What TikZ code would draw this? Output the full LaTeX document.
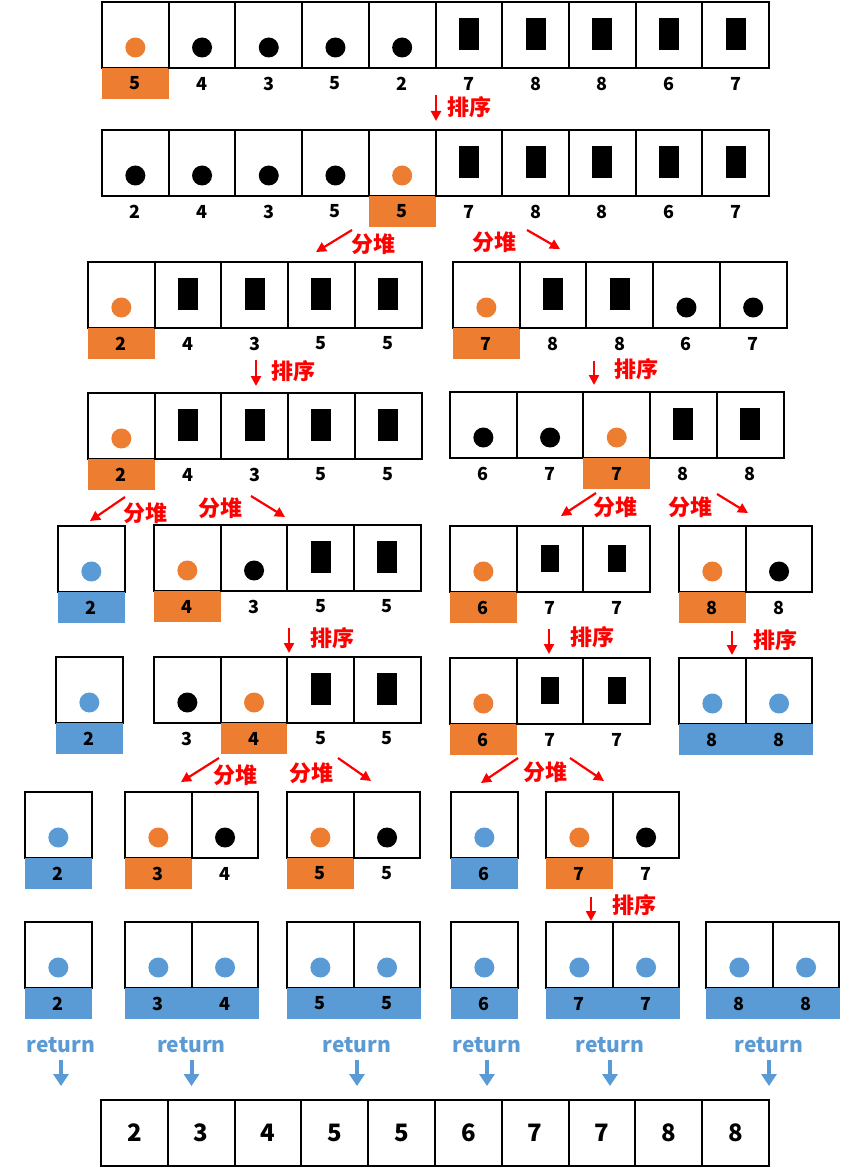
\documentclass[tikz,border=0pt]{standalone}
\usepackage{fontspec}
\setmainfont{Noto Sans CJK SC}
\usepackage{tikz}
\usetikzlibrary{arrows,arrows.meta,positioning}
\definecolor{qsorange}{RGB}{237,125,49}
\definecolor{qsblue}{RGB}{91,155,213}
\definecolor{qsred}{RGB}{255,0,0}
\newcommand{\digitfont}{\bfseries\fontsize{18}{18}\selectfont}
\newcommand{\bigdigit}{\bfseries\fontsize{24}{24}\selectfont}
\tikzstyle{cell}=[draw, line width=2pt, minimum width=66.7pt, minimum height=66pt, inner sep=0pt, outer sep=0pt]
\tikzstyle{pdot}=[circle, fill=qsorange, minimum size=20pt, inner sep=0pt, yshift=-45.5pt]
\tikzstyle{bdot}=[circle, fill=black, minimum size=20pt, inner sep=0pt, yshift=-45.5pt]
\tikzstyle{ddot}=[circle, fill=qsblue, minimum size=20pt, inner sep=0pt, yshift=-45.5pt]
\tikzstyle{bar}=[rectangle, fill=black, minimum width=20pt, minimum height=32pt, inner sep=0pt, yshift=-32pt]
\tikzstyle{sbar}=[rectangle, fill=black, minimum width=18pt, minimum height=27pt, inner sep=0pt, yshift=-32.5pt]
\tikzstyle{plain}=[font=\digitfont, inner sep=0pt, yshift=-15.5pt]
\tikzstyle{ptag}=[plain, fill=qsorange, minimum width=66.7pt, minimum height=31pt]
\tikzstyle{dtag}=[plain, fill=qsblue, minimum width=67.3pt, minimum height=31pt]
\tikzstyle{redtext}=[text=qsred, font=\bfseries\fontsize{22}{22}\selectfont, inner sep=0pt]
\tikzstyle{redarrow}=[-{Triangle[length=10pt,width=10pt]}, draw=qsred, fill=qsred, line width=2.2pt]
\tikzstyle{rettext}=[text=qsblue, font=\bfseries\fontsize{21}{21}\selectfont, inner sep=1pt]
\tikzstyle{retarrow}=[-{Triangle[length=12pt,width=15pt]}, draw=qsblue, fill=qsblue, line width=4pt]
% one row of cells: name, left x, top y, kind/value/tag
\newcommand{\qsrow}[4]{%
  \foreach \kind/\val/\tg [count=\i] in {#4}{%
    \node[cell] (#1-\i) at ({#2+(\i-0.5)*66.7},{#3+33}) {};
    \node[\kind] at (#1-\i.north) {};
    \node[\tg] (#1-\i-t) at (#1-\i.south) {\val};
  }}

\begin{document}
\begin{tikzpicture}[x=1pt, y=-1pt]
\useasboundingbox (0,0) rectangle (858,1169);
\fill[white] (0,0) rectangle (858,1169);
%
\qsrow{r1}{102}{2}{pdot/5/ptag, bdot/4/plain, bdot/3/plain, bdot/5/plain, bdot/2/plain, bar/7/plain, bar/8/plain, bar/8/plain, bar/6/plain, bar/7/plain}
\qsrow{r2}{102}{130}{bdot/2/plain, bdot/4/plain, bdot/3/plain, bdot/5/plain, pdot/5/ptag, bar/7/plain, bar/8/plain, bar/8/plain, bar/6/plain, bar/7/plain}
%
\qsrow{r3a}{88}{262}{pdot/2/ptag, bar/4/plain, bar/3/plain, bar/5/plain, bar/5/plain}
\qsrow{r3b}{453}{262}{pdot/7/ptag, bar/8/plain, bar/8/plain, bdot/6/plain, bdot/7/plain}
\qsrow{r4a}{88}{393}{pdot/2/ptag, bar/4/plain, bar/3/plain, bar/5/plain, bar/5/plain}
\qsrow{r4b}{450}{392}{bdot/6/plain, bdot/7/plain, pdot/7/ptag, bar/8/plain, bar/8/plain}
%
\qsrow{r5a}{58}{526}{ddot/2/dtag}
\qsrow{r5b}{154}{525}{pdot/4/ptag, bdot/3/plain, bar/5/plain, bar/5/plain}
\qsrow{r5c}{450}{526}{pdot/6/ptag, sbar/7/plain, sbar/7/plain}
\qsrow{r5d}{679}{526}{pdot/8/ptag, bdot/8/plain}
\qsrow{r6a}{56}{657}{ddot/2/dtag}
\qsrow{r6b}{154}{657}{bdot/3/plain, pdot/4/ptag, bar/5/plain, bar/5/plain}
\qsrow{r6c}{450}{658}{pdot/6/ptag, sbar/7/plain, sbar/7/plain}
\qsrow{r6d}{679}{658}{ddot/8/dtag, ddot/8/dtag}
%
\qsrow{r7a}{25}{792}{ddot/2/dtag}
\qsrow{r7b}{125}{792}{pdot/3/ptag, bdot/4/plain}
\qsrow{r7c}{287}{792}{pdot/5/ptag, bdot/5/plain}
\qsrow{r7d}{451}{792}{ddot/6/dtag}
\qsrow{r7e}{546}{792}{pdot/7/ptag, bdot/7/plain}
\qsrow{r8a}{25}{922}{ddot/2/dtag}
\qsrow{r8b}{125}{922}{ddot/3/dtag, ddot/4/dtag}
\qsrow{r8c}{287}{922}{ddot/5/dtag, ddot/5/dtag}
\qsrow{r8d}{451}{922}{ddot/6/dtag}
\qsrow{r8e}{546}{922}{ddot/7/dtag, ddot/7/dtag}
\qsrow{r8f}{706}{922}{ddot/8/dtag, ddot/8/dtag}
%
% sort steps
\foreach \x/\ya/\yb/\tx/\ty [count=\i] in {436/95/121/469/107, 256/360/386/293/371, 594/361/385/636/369, 289/628/653/332/638, 549/629/654/592/637, 732/631/655/775/640, 591/897/921/634/905}{
  \coordinate (sa\i) at (\x,\ya);
  \coordinate (sb\i) at (\x,\yb);
  \draw[redarrow] (sa\i) -- (sb\i);
  \node[redtext] (st\i) at (\tx,\ty) {排序};
}
% split steps
\foreach \xa/\ya/\xb/\yb [count=\i] in {352/230/316/252, 527/230/560/249, 125/497/90/521, 251/496/285/517, 596/493/561/516, 717/494/748/513, 219/758/181/782, 338/758/371/781, 518/758/481/783, 570/758/604/781}{
  \coordinate (pa\i) at (\xa,\ya);
  \coordinate (pb\i) at (\xb,\yb);
  \draw[redarrow] (pa\i) -- (pb\i);
}
\foreach \tx/\ty [count=\i] in {373/244, 494/242, 145/513, 220/508, 615/507, 690/507, 235/775, 311/773, 545/772}{
  \node[redtext] (sp\i) at (\tx,\ty) {分堆};
}
%
% merge
\foreach \x [count=\i] in {61,191.5,357,487,610,769}{
  \node[rettext] (ret\i) at (\x,1045) {return};
  \coordinate (rend\i) at (\x,1086);
  \draw[retarrow, shorten <=6pt] (ret\i) -- (rend\i);
}
\foreach \v [count=\i] in {2,3,4,5,5,6,7,7,8,8}{
  \node[cell, font=\bigdigit] (fin\i) at ({101+(\i-0.5)*66.8},1133) {\v};
}
\end{tikzpicture}
\end{document}
